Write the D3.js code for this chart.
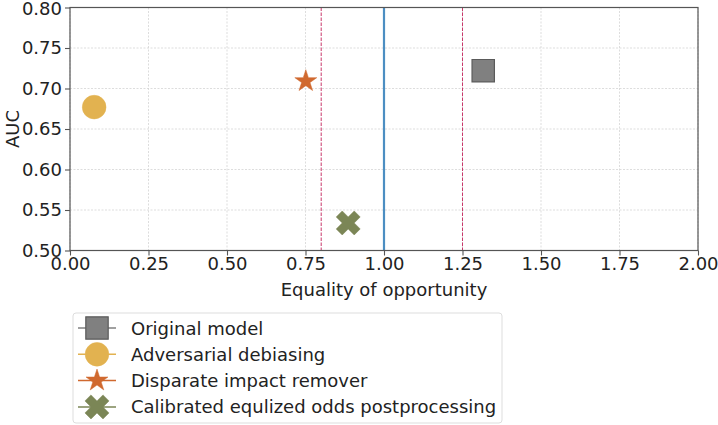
<!DOCTYPE html>
<html><head><meta charset="utf-8">
<script src="https://cdn.jsdelivr.net/npm/d3@7"></script>
<style>body{margin:0;background:#fff}svg{display:block;font-family:"DejaVu Sans",sans-serif}</style>
</head><body><svg id="c" width="718" height="425"></svg>
<script>
const methods = ["Original model","Adversarial debiasing","Disparate impact remover","Calibrated equlized odds postprocessing"];
const eqOpp = [1.316, 0.077, 0.751, 0.886];
const auc = [0.722, 0.677, 0.709, 0.534];
const colors = ["#808080","#E2B250","#D0692F","#7B8656"];
const shapes = ["square","circle","star","x"];
const xTicks = [0,0.25,0.5,0.75,1,1.25,1.5,1.75,2];
const yTicks = [0.5,0.55,0.6,0.65,0.7,0.75,0.8];
const fairBounds = [0.8, 1.25];
const idealLine = 1.0;

const svg = d3.select("#c");
const M = {l:70, r:698, t:7.5, b:250.5};
const x = d3.scaleLinear().domain([0,2]).range([M.l, M.r]);
const y = d3.scaleLinear().domain([0.5,0.8]).range([M.b, M.t]);
const FS = 18;

// grid
const g = svg.append("g");
g.selectAll(".gx").data(xTicks).enter().append("line")
  .attr("x1",d=>x(d)).attr("x2",d=>x(d)).attr("y1",M.t).attr("y2",M.b)
  .attr("stroke","#d4d4d4").attr("stroke-width",0.8).attr("stroke-dasharray","2,1.5");
g.selectAll(".gy").data(yTicks).enter().append("line")
  .attr("y1",d=>y(d)).attr("y2",d=>y(d)).attr("x1",M.l).attr("x2",M.r)
  .attr("stroke","#d4d4d4").attr("stroke-width",0.8).attr("stroke-dasharray","2,1.5");

// reference lines
svg.selectAll(".fb").data(fairBounds).enter().append("line")
  .attr("x1",d=>x(d)).attr("x2",d=>x(d)).attr("y1",M.t).attr("y2",M.b)
  .attr("stroke","#C8386A").attr("stroke-width",1).attr("stroke-dasharray","3.5,1.5");
svg.append("line").attr("x1",x(idealLine)).attr("x2",x(idealLine)).attr("y1",M.t).attr("y2",M.b)
  .attr("stroke","#4C8EC2").attr("stroke-width",2.2);

function symPath(shape){
  if(shape==="square") return d3.symbol(d3.symbolSquare, 500)();
  if(shape==="circle") return d3.symbol(d3.symbolCircle, 440)();
  if(shape==="star") return d3.symbol(d3.symbolStar, 150)();
  return d3.symbol(d3.symbolCross, 360)();
}
function drawMarker(sel, i, cx, cy){
  sel.append("path").attr("d", symPath(shapes[i]))
    .attr("transform", `translate(${cx},${cy})` + (shapes[i]==="x" ? " rotate(45)" : ""))
    .attr("fill", colors[i])
    .attr("stroke", shapes[i]==="square" ? "#5a5a5a" : colors[i])
    .attr("stroke-width", shapes[i]==="square" ? 1.2 : 0.5);
}
const pts = svg.append("g");
methods.forEach((m,i)=> drawMarker(pts, i, x(eqOpp[i]), y(auc[i])));

// frame
svg.append("rect").attr("x",M.l).attr("y",M.t).attr("width",M.r-M.l).attr("height",M.b-M.t)
  .attr("fill","none").attr("stroke","#555").attr("stroke-width",1.2);

// axes
const xa = svg.append("g").attr("transform",`translate(0,${M.b})`)
  .call(d3.axisBottom(x).tickValues(xTicks).tickFormat(d3.format(".2f")).tickSize(5).tickPadding(2));
const ya = svg.append("g").attr("transform",`translate(${M.l},0)`)
  .call(d3.axisLeft(y).tickValues(yTicks).tickFormat(d3.format(".2f")).tickSize(5).tickPadding(3));
[xa,ya].forEach(a=>{
  a.select(".domain").remove();
  a.selectAll("line").attr("stroke","#555").attr("stroke-width",1.1);
  a.selectAll("text").attr("font-size",FS).attr("fill","#222").attr("font-family","DejaVu Sans");
});
// keep the top tick label inside the picture
ya.selectAll(".tick text").filter(d=>d===0.8).attr("dy","0.40em");

svg.append("text").attr("x",x(1)).attr("y",296).attr("text-anchor","middle")
  .attr("font-size",FS).attr("fill","#222").text("Equality of opportunity");
svg.append("text").attr("transform",`translate(14,${(M.t+M.b)/2}) rotate(-90)`).attr("text-anchor","middle")
  .attr("dominant-baseline","middle").attr("font-size",FS).attr("fill","#222").text("AUC");

// legend
const lg = svg.append("g");
lg.append("rect").attr("x",73).attr("y",313).attr("width",429).attr("height",110).attr("rx",3)
  .attr("fill","#fff").attr("stroke","#ddd").attr("stroke-width",1);
methods.forEach((m,i)=>{
  const cy = 328 + i*26.3;
  lg.append("line").attr("x1",78).attr("x2",116).attr("y1",cy).attr("y2",cy)
    .attr("stroke",colors[i]).attr("stroke-width",1.5);
  drawMarker(lg, i, 97, cy);
  lg.append("text").attr("x",131).attr("y",cy).attr("dominant-baseline","central")
    .attr("font-size",FS).attr("fill","#222").text(m);
});
</script></body></html>
